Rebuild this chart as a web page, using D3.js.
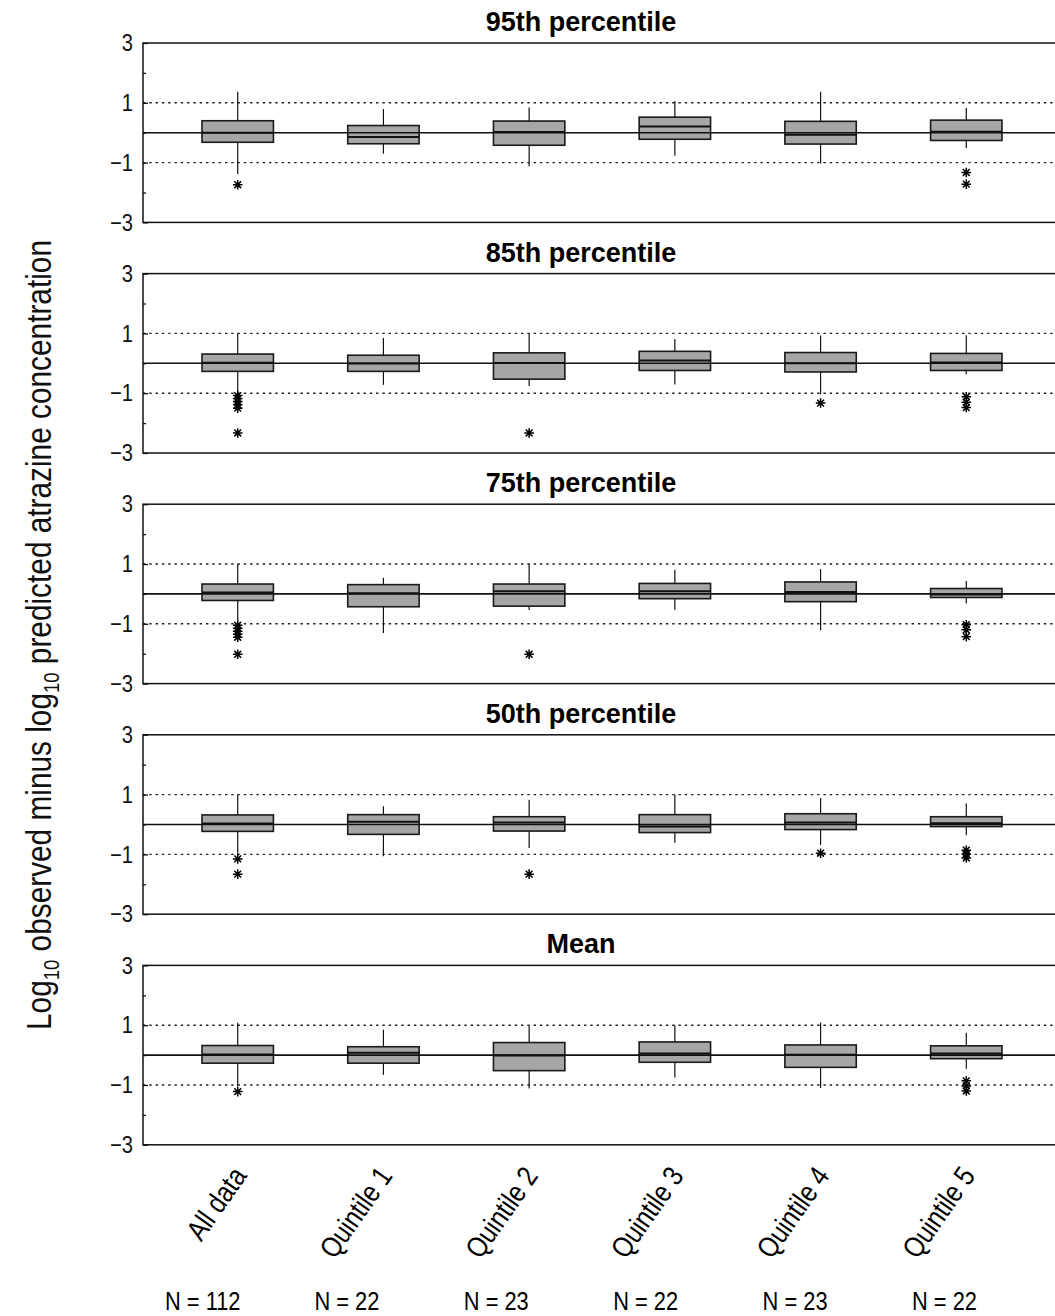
<!DOCTYPE html>
<html>
<head>
<meta charset="utf-8">
<script src="https://cdn.jsdelivr.net/npm/d3@7"></script>
<style>
  body { margin: 0; background: #fff; }
  svg { display: block; }
</style>
</head>
<body>
<svg id="chart" width="1055" height="1316"></svg>
<script>
// Groups along the x axis and their sample sizes
const categories = ["All data", "Quintile 1", "Quintile 2", "Quintile 3", "Quintile 4", "Quintile 5"];
const sampleSizes = [112, 22, 23, 22, 23, 22];
const panelTitles = ["95th percentile", "85th percentile", "75th percentile", "50th percentile", "Mean"];
const yTickLabels = [3, 1, -1, -3];
const yMinorTicks = [2, 0, -2];

// Box summaries per group: [lower whisker, 25th, median, 75th, upper whisker]
const p95Boxes = [
  [-1.38, -0.32, 0.00, 0.40, 1.37],
  [-0.70, -0.37, -0.14, 0.24, 0.79],
  [-1.12, -0.42, 0.02, 0.39, 0.84],
  [-0.77, -0.22, 0.21, 0.52, 1.06],
  [-1.03, -0.38, -0.07, 0.38, 1.37],
  [-0.51, -0.26, 0.03, 0.42, 0.83]
];
const p95Outliers = [[-1.74], [], [], [], [], [-1.33, -1.72]];

const p85Boxes = [
  [-1.00, -0.27, 0.02, 0.31, 1.00],
  [-0.72, -0.27, -0.01, 0.27, 0.85],
  [-0.76, -0.53, 0.01, 0.35, 1.00],
  [-0.71, -0.24, 0.09, 0.40, 0.81],
  [-1.04, -0.29, 0.00, 0.36, 0.93],
  [-0.37, -0.24, 0.03, 0.33, 0.94]
];
const p85Outliers = [[-1.08, -1.18, -1.28, -1.38, -1.50, -2.33], [], [-2.33], [], [-1.33], [-1.12, -1.30, -1.48]];

const p75Boxes = [
  [-0.97, -0.22, 0.05, 0.33, 1.00],
  [-1.31, -0.43, 0.02, 0.31, 0.54],
  [-0.54, -0.41, 0.09, 0.33, 1.00],
  [-0.53, -0.16, 0.09, 0.35, 0.81],
  [-1.22, -0.26, 0.06, 0.40, 0.83],
  [-0.32, -0.12, -0.02, 0.18, 0.43]
];
const p75Outliers = [[-1.05, -1.15, -1.25, -1.35, -1.45, -2.02], [], [-2.02], [], [], [-1.03, -1.20, -1.43]];

const p50Boxes = [
  [-1.04, -0.23, 0.03, 0.32, 1.00],
  [-1.06, -0.33, 0.09, 0.33, 0.61],
  [-0.79, -0.22, 0.07, 0.26, 0.83],
  [-0.61, -0.27, -0.07, 0.33, 1.00],
  [-0.68, -0.17, 0.07, 0.36, 0.88],
  [-0.36, -0.07, 0.04, 0.26, 0.70]
];
const p50Outliers = [[-1.15, -1.66], [], [-1.66], [], [-0.96], [-0.86, -0.99, -1.12]];

const meanBoxes = [
  [-1.04, -0.27, 0.02, 0.32, 1.08],
  [-0.66, -0.27, 0.08, 0.28, 0.85],
  [-1.12, -0.52, -0.01, 0.42, 0.97],
  [-0.75, -0.24, 0.05, 0.44, 1.00],
  [-1.10, -0.41, 0.01, 0.34, 1.09],
  [-0.46, -0.12, 0.05, 0.31, 0.75]
];
const meanOutliers = [[-1.22], [], [], [], [], [-0.86, -1.03, -1.20]];

const panels = [
  { title: panelTitles[0], boxes: p95Boxes, outliers: p95Outliers },
  { title: panelTitles[1], boxes: p85Boxes, outliers: p85Outliers },
  { title: panelTitles[2], boxes: p75Boxes, outliers: p75Outliers },
  { title: panelTitles[3], boxes: p50Boxes, outliers: p50Outliers },
  { title: panelTitles[4], boxes: meanBoxes, outliers: meanOutliers }
];

const FONT = "'Liberation Sans', Arial, sans-serif";
const NARROW = 0.84;   // horizontal squeeze giving a condensed face
const svg = d3.select("#chart");

const plotLeft = 143, plotRight = 1061;
const panelTop0 = 43, panelStep = 230.6, panelH = 179.4;

const x = d3.scalePoint().domain(categories).range([plotLeft, plotRight]).padding(0.65);
const boxW = x.step() * 0.49;

// eight-spoke star used for outlying values
function starPath(r) {
  const p = d3.path();
  for (let k = 0; k < 4; k++) {
    const a = k * Math.PI / 4;
    p.moveTo(-r * Math.cos(a), -r * Math.sin(a));
    p.lineTo(r * Math.cos(a), r * Math.sin(a));
  }
  return p.toString();
}

panels.forEach((panel, i) => {
  const top = panelTop0 + i * panelStep;
  const y = d3.scaleLinear().domain([-3, 3]).range([top + panelH, top]);
  const g = svg.append("g");

  // dotted reference lines at +/-1
  g.selectAll("line.ref").data([1, -1]).join("line")
    .attr("x1", plotLeft).attr("x2", plotRight)
    .attr("y1", d => y(d)).attr("y2", d => y(d))
    .attr("stroke", "#222").attr("stroke-width", 1.4)
    .attr("stroke-dasharray", "2.4,3.9");

  const groups = g.selectAll("g.box").data(panel.boxes).join("g")
    .attr("transform", (d, j) => `translate(${x(categories[j])},0)`);

  // whiskers
  groups.append("line")
    .attr("x1", 0).attr("x2", 0)
    .attr("y1", d => y(d[3])).attr("y2", d => y(d[4]))
    .attr("stroke", "#111").attr("stroke-width", 1.2);
  groups.append("line")
    .attr("x1", 0).attr("x2", 0)
    .attr("y1", d => y(d[0])).attr("y2", d => y(d[1]))
    .attr("stroke", "#111").attr("stroke-width", 1.2);

  // interquartile boxes
  groups.append("rect")
    .attr("x", -boxW / 2).attr("width", boxW)
    .attr("y", d => y(d[3])).attr("height", d => y(d[1]) - y(d[3]))
    .attr("fill", "#a6a6a6").attr("stroke", "#1a1a1a").attr("stroke-width", 1.6);

  // zero line across the panel
  g.append("line")
    .attr("x1", plotLeft).attr("x2", plotRight)
    .attr("y1", y(0)).attr("y2", y(0))
    .attr("stroke", "#111").attr("stroke-width", 1.6);

  // medians
  groups.append("line")
    .attr("x1", -boxW / 2).attr("x2", boxW / 2)
    .attr("y1", d => y(d[2])).attr("y2", d => y(d[2]))
    .attr("stroke", "#111").attr("stroke-width", 2);

  // outliers
  panel.outliers.forEach((vals, j) => {
    g.selectAll(null).data(vals).join("path")
      .attr("d", starPath(4.8))
      .attr("transform", d => `translate(${x(categories[j])},${y(d)})`)
      .attr("fill", "none").attr("stroke", "#000").attr("stroke-width", 1.5);
  });

  // frame
  g.append("rect")
    .attr("x", plotLeft).attr("y", y(3))
    .attr("width", plotRight - plotLeft).attr("height", y(-3) - y(3))
    .attr("fill", "none").attr("stroke", "#111").attr("stroke-width", 1.5);

  // y axis: labelled ticks pointing inward
  const axisG = g.append("g").attr("transform", `translate(${plotLeft},0)`)
    .call(d3.axisLeft(y).tickValues(yTickLabels).tickFormat(d3.format("d"))
      .tickSizeInner(-5).tickSizeOuter(0).tickPadding(10));
  axisG.select(".domain").remove();
  axisG.selectAll("line").attr("stroke", "#111").attr("stroke-width", 1.3);
  axisG.selectAll("text")
    .attr("font-family", FONT).attr("font-size", 24).attr("fill", "#111")
    .attr("x", null)
    .attr("transform", `translate(-10,0) scale(${NARROW},1)`);

  const minorG = g.append("g").attr("transform", `translate(${plotLeft},0)`)
    .call(d3.axisLeft(y).tickValues(yMinorTicks).tickSizeInner(-3).tickSizeOuter(0).tickFormat(""));
  minorG.select(".domain").remove();
  minorG.selectAll("line").attr("stroke", "#111").attr("stroke-width", 1.3);

  // panel title
  g.append("text")
    .attr("x", 581).attr("y", top - 12)
    .attr("text-anchor", "middle")
    .attr("font-family", FONT).attr("font-weight", "bold").attr("font-size", 27)
    .attr("fill", "#000")
    .text(panel.title);
});

// rotated group labels below the bottom panel
svg.append("g").selectAll("text").data(categories).join("text")
  .attr("transform", d => `translate(${x(d) + 10},1176) rotate(-55) scale(${NARROW},1)`)
  .attr("text-anchor", "end")
  .attr("font-family", FONT).attr("font-size", 29)
  .attr("fill", "#000")
  .text(d => d);

// sample sizes
const nX = d3.scaleLinear().domain([0, categories.length - 1]).range([165, 912]);
svg.append("g").selectAll("text").data(sampleSizes).join("text")
  .attr("transform", (d, j) => `translate(${nX(j)},1310) scale(${NARROW},1)`)
  .attr("font-family", FONT).attr("font-size", 26)
  .attr("fill", "#000")
  .text(d => `N = ${d}`);

// y axis title with subscripts
const yTitle = svg.append("text")
  .attr("transform", `translate(51,635) rotate(-90) scale(${NARROW},1)`)
  .attr("text-anchor", "middle")
  .attr("font-family", FONT).attr("font-size", 35.5)
  .attr("fill", "#111");
yTitle.append("tspan").text("Log");
yTitle.append("tspan").attr("font-size", 22).attr("dy", 8).text("10");
yTitle.append("tspan").attr("dy", -8).text(" observed minus log");
yTitle.append("tspan").attr("font-size", 22).attr("dy", 8).text("10");
yTitle.append("tspan").attr("dy", -8).text(" predicted atrazine concentration");
</script>
</body>
</html>
